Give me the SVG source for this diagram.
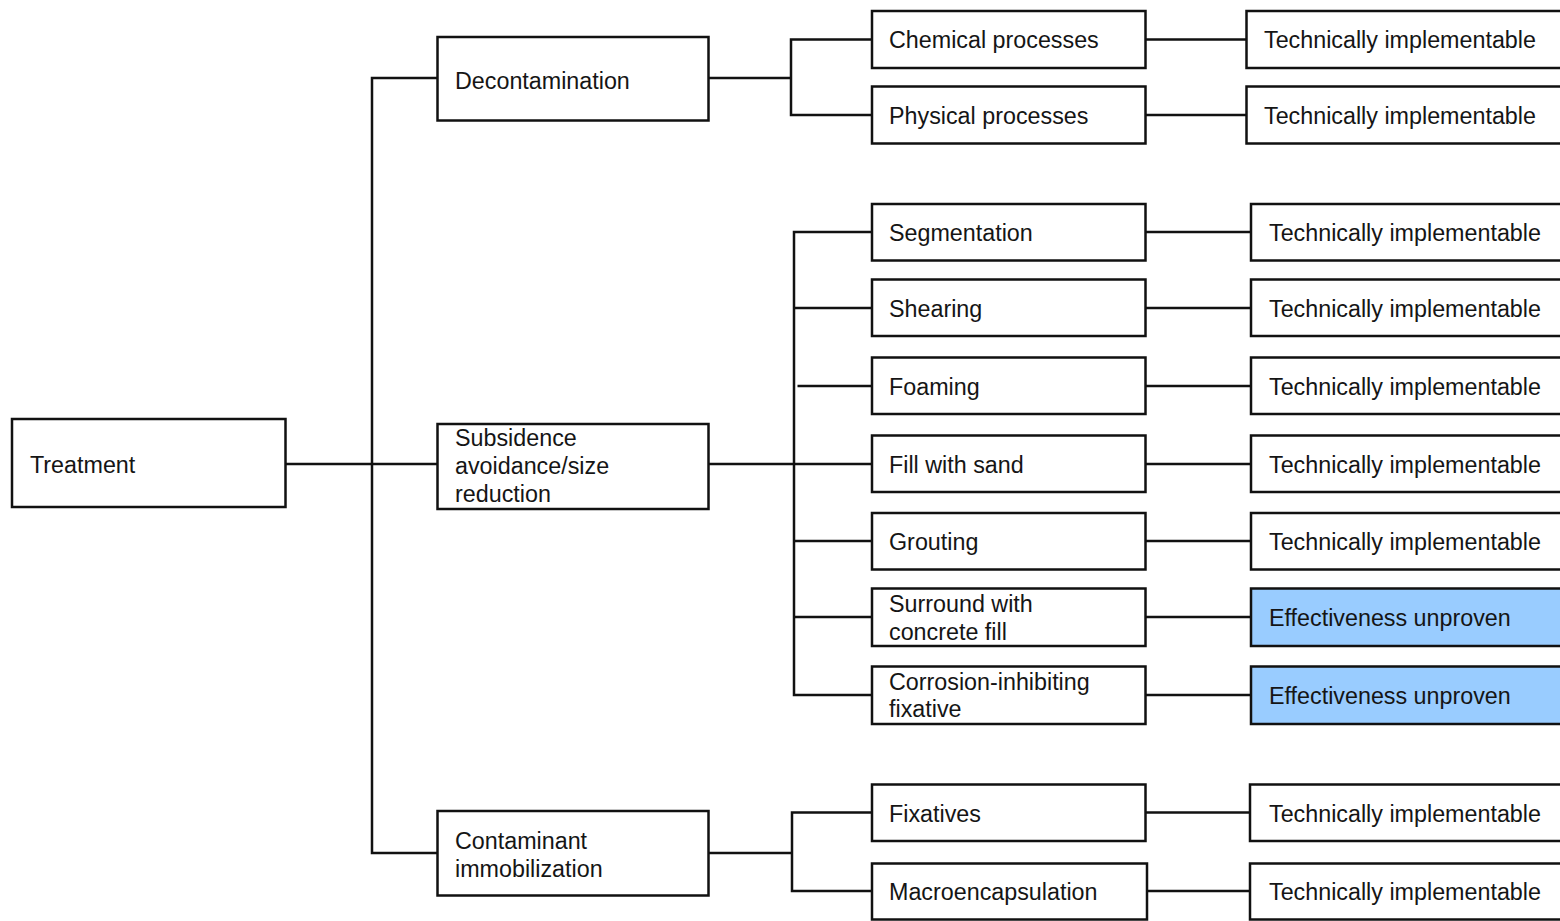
<svg xmlns="http://www.w3.org/2000/svg" width="1560" height="921" viewBox="0 0 1560 921">
  <style>
    .box { fill: #ffffff; stroke: #111111; stroke-width: 2.5; }
    .blue { fill: #99ccff; stroke: #111111; stroke-width: 2.5; }
    .lbl { font-family: "Liberation Sans", Arial, sans-serif; font-size: 23.3px; fill: #151515; }
    .wire { fill: none; stroke: #111111; stroke-width: 2.5; }
  </style>
  <rect width="1560" height="921" fill="#ffffff"/>

  <!-- connectors -->
  <g id="connectors" class="wire">
    <!-- root to first level -->
    <path d="M285 464 H438"/>
    <path d="M438 78 H372 V853 H438"/>
    <!-- decontamination branch -->
    <path d="M708 78 H791"/>
    <path d="M872 39.5 H791 V115 H872"/>
    <!-- subsidence branch -->
    <path d="M708 464 H872"/>
    <path d="M872 232 H794 V695 H872"/>
    <path d="M794 308 H872"/>
    <path d="M797.5 386 H872"/>
    <path d="M794 541 H872"/>
    <path d="M794 617 H872"/>
    <!-- immobilization branch -->
    <path d="M708 853 H792"/>
    <path d="M872 812.5 H792 V891 H872"/>
    <!-- method to assessment -->
    <path d="M1145 39.5 H1247"/>
    <path d="M1145 115 H1247"/>
    <path d="M1145 232 H1251"/>
    <path d="M1145 308 H1251"/>
    <path d="M1145 386 H1251"/>
    <path d="M1145 464 H1251"/>
    <path d="M1145 541 H1251"/>
    <path d="M1145 617 H1251"/>
    <path d="M1145 695 H1251"/>
    <path d="M1145 812.5 H1251"/>
    <path d="M1147 891 H1251"/>
  </g>

  <!-- root -->
  <g id="treatment">
    <rect class="box" x="12" y="419" width="273.5" height="88"/>
    <text class="lbl" x="30" y="472.5">Treatment</text>
  </g>

  <!-- first level -->
  <g id="decontamination">
    <rect class="box" x="437.5" y="37" width="271" height="83.5"/>
    <text class="lbl" x="455" y="88.5">Decontamination</text>
  </g>
  <g id="subsidence">
    <rect class="box" x="437.5" y="424" width="271" height="85"/>
    <text class="lbl" x="455" y="446">Subsidence</text>
    <text class="lbl" x="455" y="474">avoidance/size</text>
    <text class="lbl" x="455" y="502">reduction</text>
  </g>
  <g id="immobilization">
    <rect class="box" x="437.5" y="811" width="271" height="84.5"/>
    <text class="lbl" x="455" y="848.5">Contaminant</text>
    <text class="lbl" x="455" y="876.5">immobilization</text>
  </g>

  <!-- methods -->
  <g id="chemical">
    <rect class="box" x="872" y="11" width="273.5" height="57"/>
    <text class="lbl" x="889" y="48.3">Chemical processes</text>
  </g>
  <g id="physical">
    <rect class="box" x="872" y="86.5" width="273.5" height="57"/>
    <text class="lbl" x="889" y="124">Physical processes</text>
  </g>
  <g id="segmentation">
    <rect class="box" x="872" y="204" width="273.5" height="56.5"/>
    <text class="lbl" x="889" y="241">Segmentation</text>
  </g>
  <g id="shearing">
    <rect class="box" x="872" y="279.5" width="273.5" height="56.5"/>
    <text class="lbl" x="889" y="317">Shearing</text>
  </g>
  <g id="foaming">
    <rect class="box" x="872" y="357.5" width="273.5" height="56.5"/>
    <text class="lbl" x="889" y="395">Foaming</text>
  </g>
  <g id="sand">
    <rect class="box" x="872" y="435.5" width="273.5" height="56.5"/>
    <text class="lbl" x="889" y="473">Fill with sand</text>
  </g>
  <g id="grouting">
    <rect class="box" x="872" y="513" width="273.5" height="56.5"/>
    <text class="lbl" x="889" y="550">Grouting</text>
  </g>
  <g id="concrete">
    <rect class="box" x="872" y="588.5" width="273.5" height="57.5"/>
    <text class="lbl" x="889" y="611.5">Surround with</text>
    <text class="lbl" x="889" y="640">concrete fill</text>
  </g>
  <g id="corrosion">
    <rect class="box" x="872" y="666.5" width="273.5" height="57.5"/>
    <text class="lbl" x="889" y="690">Corrosion-inhibiting</text>
    <text class="lbl" x="889" y="717">fixative</text>
  </g>
  <g id="fixatives">
    <rect class="box" x="872" y="784.5" width="273.5" height="56.5"/>
    <text class="lbl" x="889" y="821.5">Fixatives</text>
  </g>
  <g id="macro">
    <rect class="box" x="872" y="863.5" width="275" height="56"/>
    <text class="lbl" x="889" y="900">Macroencapsulation</text>
  </g>

  <!-- assessments -->
  <g id="a-chemical">
    <rect class="box" x="1246.5" y="11" width="330" height="57"/>
    <text class="lbl" x="1264" y="48.3">Technically implementable</text>
  </g>
  <g id="a-physical">
    <rect class="box" x="1246.5" y="86.5" width="330" height="57"/>
    <text class="lbl" x="1264" y="124">Technically implementable</text>
  </g>
  <g id="a-segmentation">
    <rect class="box" x="1251" y="204" width="330" height="56.5"/>
    <text class="lbl" x="1269" y="241">Technically implementable</text>
  </g>
  <g id="a-shearing">
    <rect class="box" x="1251" y="279.5" width="330" height="56.5"/>
    <text class="lbl" x="1269" y="317">Technically implementable</text>
  </g>
  <g id="a-foaming">
    <rect class="box" x="1251" y="357.5" width="330" height="56.5"/>
    <text class="lbl" x="1269" y="395">Technically implementable</text>
  </g>
  <g id="a-sand">
    <rect class="box" x="1251" y="435.5" width="330" height="56.5"/>
    <text class="lbl" x="1269" y="473">Technically implementable</text>
  </g>
  <g id="a-grouting">
    <rect class="box" x="1251" y="513" width="330" height="56.5"/>
    <text class="lbl" x="1269" y="550">Technically implementable</text>
  </g>
  <g id="a-concrete">
    <rect class="blue" x="1251" y="588.5" width="330" height="57.5"/>
    <text class="lbl" x="1269" y="626">Effectiveness unproven</text>
  </g>
  <g id="a-corrosion">
    <rect class="blue" x="1251" y="666.5" width="330" height="57.5"/>
    <text class="lbl" x="1269" y="704">Effectiveness unproven</text>
  </g>
  <g id="a-fixatives">
    <rect class="box" x="1250" y="784.5" width="330" height="56.5"/>
    <text class="lbl" x="1269" y="821.5">Technically implementable</text>
  </g>
  <g id="a-macro">
    <rect class="box" x="1250" y="863.5" width="330" height="56"/>
    <text class="lbl" x="1269" y="900">Technically implementable</text>
  </g>
</svg>
